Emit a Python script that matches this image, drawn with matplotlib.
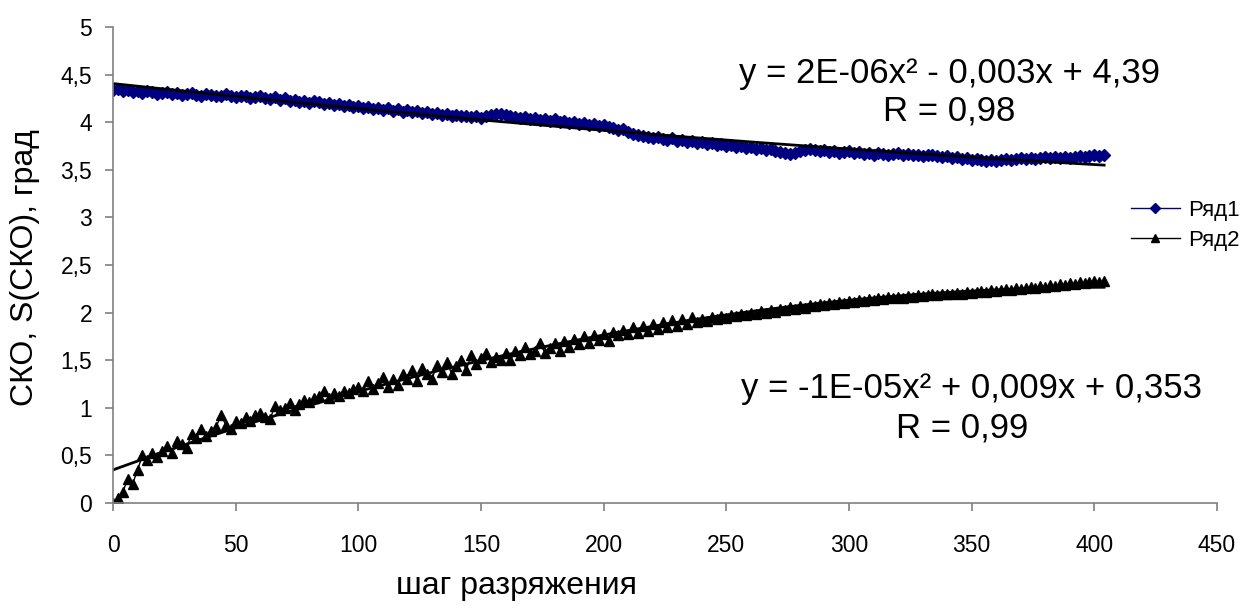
import matplotlib
matplotlib.use("Agg")
import matplotlib.pyplot as plt
import numpy as np

plt.rcParams['font.family'] = ['Liberation Sans', 'DejaVu Sans']

# step of the data, every 2nd point
x_step = np.arange(0, 405, 2)

# Ряд1 - СКО
row1 = [
    4.34, 4.35, 4.33, 4.34, 4.32, 4.33, 4.31, 4.33, 4.32, 4.30,
    4.31, 4.32, 4.30, 4.31, 4.29, 4.30, 4.31, 4.29, 4.28, 4.30,
    4.29, 4.27, 4.28, 4.30, 4.27, 4.26, 4.28, 4.27, 4.25, 4.26,
    4.27, 4.25, 4.24, 4.26, 4.23, 4.25, 4.22, 4.23, 4.21, 4.22,
    4.20, 4.22, 4.21, 4.19, 4.20, 4.18, 4.19, 4.17, 4.18, 4.16,
    4.17, 4.15, 4.16, 4.14, 4.15, 4.13, 4.15, 4.12, 4.14, 4.11,
    4.13, 4.11, 4.12, 4.10, 4.11, 4.09, 4.10, 4.08, 4.09, 4.07,
    4.08, 4.06, 4.07, 4.05, 4.06, 4.04, 4.07, 4.08, 4.09, 4.09,
    4.08, 4.06, 4.05, 4.04, 4.05, 4.03, 4.04, 4.02, 4.03, 4.01,
    4.03, 4.00, 4.01, 3.99, 4.00, 3.98, 3.99, 3.97, 3.98, 3.96,
    3.97, 3.95, 3.94, 3.92, 3.93, 3.90, 3.88, 3.87, 3.85, 3.84,
    3.83, 3.84, 3.82, 3.81, 3.83, 3.80, 3.81, 3.79, 3.80, 3.78,
    3.79, 3.77, 3.78, 3.76, 3.77, 3.75, 3.76, 3.74, 3.75, 3.73,
    3.74, 3.72, 3.73, 3.71, 3.72, 3.70, 3.69, 3.68, 3.67, 3.68,
    3.70, 3.71, 3.72, 3.71, 3.70, 3.71, 3.69, 3.70, 3.68, 3.69,
    3.70, 3.68, 3.69, 3.67, 3.68, 3.66, 3.68, 3.67, 3.66, 3.67,
    3.68, 3.66, 3.67, 3.65, 3.66, 3.64, 3.65, 3.66, 3.64, 3.63,
    3.64, 3.62, 3.63, 3.61, 3.62, 3.60, 3.61, 3.60, 3.59, 3.60,
    3.59, 3.60, 3.61, 3.60, 3.61, 3.62, 3.61, 3.62, 3.61, 3.62,
    3.63, 3.62, 3.63, 3.62, 3.63, 3.62, 3.63, 3.64, 3.63, 3.64,
    3.65, 3.64, 3.66,
]

# Ряд2 - S(СКО)
row2 = [
    0.00, 0.05, 0.12, 0.25, 0.20, 0.35, 0.50, 0.45, 0.52, 0.48,
    0.55, 0.60, 0.52, 0.65, 0.62, 0.58, 0.72, 0.68, 0.78, 0.70,
    0.76, 0.80, 0.92, 0.82, 0.78, 0.86, 0.84, 0.90, 0.86, 0.92,
    0.94, 0.90, 0.88, 1.02, 0.98, 1.00, 1.05, 0.98, 1.04, 1.08,
    1.06, 1.10, 1.12, 1.18, 1.10, 1.15, 1.12, 1.18, 1.16, 1.20,
    1.22, 1.18, 1.28, 1.20, 1.26, 1.32, 1.22, 1.30, 1.24, 1.36,
    1.30, 1.40, 1.28, 1.42, 1.35, 1.30, 1.45, 1.38, 1.48, 1.36,
    1.44, 1.50, 1.40, 1.55, 1.46, 1.52, 1.58, 1.48, 1.53, 1.50,
    1.58, 1.50, 1.60, 1.55, 1.64, 1.57, 1.60, 1.68, 1.58, 1.63,
    1.68, 1.60, 1.70, 1.64, 1.72, 1.67, 1.75, 1.68, 1.76, 1.71,
    1.77, 1.70, 1.80, 1.76, 1.82, 1.77, 1.85, 1.79, 1.86, 1.81,
    1.88, 1.83, 1.90, 1.85, 1.92, 1.86, 1.93, 1.88, 1.95, 1.90,
    1.93, 1.91, 1.95, 1.93, 1.96, 1.94, 1.97, 1.96, 1.99, 1.97,
    2.00, 1.98, 2.02, 2.00, 2.03, 2.01, 2.04, 2.03, 2.06, 2.04,
    2.07, 2.05, 2.08, 2.07, 2.09, 2.08, 2.10, 2.09, 2.11, 2.10,
    2.12, 2.11, 2.13, 2.12, 2.14, 2.13, 2.15, 2.14, 2.16, 2.15,
    2.16, 2.15, 2.17, 2.16, 2.18, 2.17, 2.18, 2.19, 2.18, 2.20,
    2.19, 2.20, 2.21, 2.20, 2.22, 2.21, 2.22, 2.23, 2.22, 2.24,
    2.23, 2.24, 2.25, 2.24, 2.26, 2.25, 2.26, 2.27, 2.26, 2.28,
    2.27, 2.29, 2.28, 2.30, 2.29, 2.31, 2.30, 2.32, 2.31, 2.32,
    2.33, 2.32, 2.33,
]

x_ticks = [0, 50, 100, 150, 200, 250, 300, 350, 400, 450]
y_ticks = [0, 0.5, 1, 1.5, 2, 2.5, 3, 3.5, 4, 4.5, 5]
y_tick_labels = ['0', '0,5', '1', '1,5', '2', '2,5', '3', '3,5', '4', '4,5', '5']

eq1 = 'y = 2E-06x² - 0,003x + 4,39'
r1 = 'R = 0,98'
eq2 = 'y = -1E-05x² + 0,009x + 0,353'
r2 = 'R = 0,99'

fig = plt.figure(figsize=(12.45, 6.06), dpi=100)
ax = fig.add_axes([0.0908, 0.1700, 0.8867, 0.7855])

ax.plot(x_step, row1, color='#000080', lw=1, marker='D', ms=6, label='Ряд1')
ax.plot(x_step, row2, color='black', lw=1, marker='^', ms=7, label='Ряд2')

# polynomial trend lines (2nd order), as excel does
xx = np.linspace(x_step[0], x_step[-1], 200)
for yy in (row1, row2):
    k = np.polyfit(x_step, yy, 2)
    ax.plot(xx, np.polyval(k, xx), color='black', lw=2)

ax.set_xlim(0, 450)
ax.set_ylim(0, 5)
ax.set_xticks(x_ticks)
ax.set_yticks(y_ticks)
ax.set_yticklabels(y_tick_labels)
ax.tick_params(labelsize=16.5, color='#808080', length=6, width=1.2)
ax.tick_params(axis='x', pad=16)
ax.tick_params(axis='y', pad=9)
for s in ['top', 'right']:
    ax.spines[s].set_visible(False)
for s in ['left', 'bottom']:
    ax.spines[s].set_color('#808080')
    ax.spines[s].set_linewidth(1.2)

fig.text(517 / 1245, 1 - 586 / 606, 'шаг разряжения', fontsize=23,
         ha='center', va='center')
fig.text(25 / 1245, 1 - 268 / 606, 'СКО, S(СКО), град', fontsize=23,
         ha='center', va='center', rotation=90)

ax.text(341, 4.51, eq1, fontsize=25, ha='center', va='center')
ax.text(341, 4.12, r1, fontsize=25, ha='center', va='center')
ax.text(350, 1.2, eq2, fontsize=25, ha='center', va='center')
ax.text(346, 0.79, r2, fontsize=25, ha='center', va='center')

fig.legend(loc='upper left', bbox_to_anchor=(1131 / 1245, 1 - 200 / 606),
           frameon=False, fontsize=16, handlelength=2.2, handletextpad=0.35,
           labelspacing=0.4, borderaxespad=0, borderpad=0, markerscale=0.8)

fig.savefig('out.png', dpi=100)
